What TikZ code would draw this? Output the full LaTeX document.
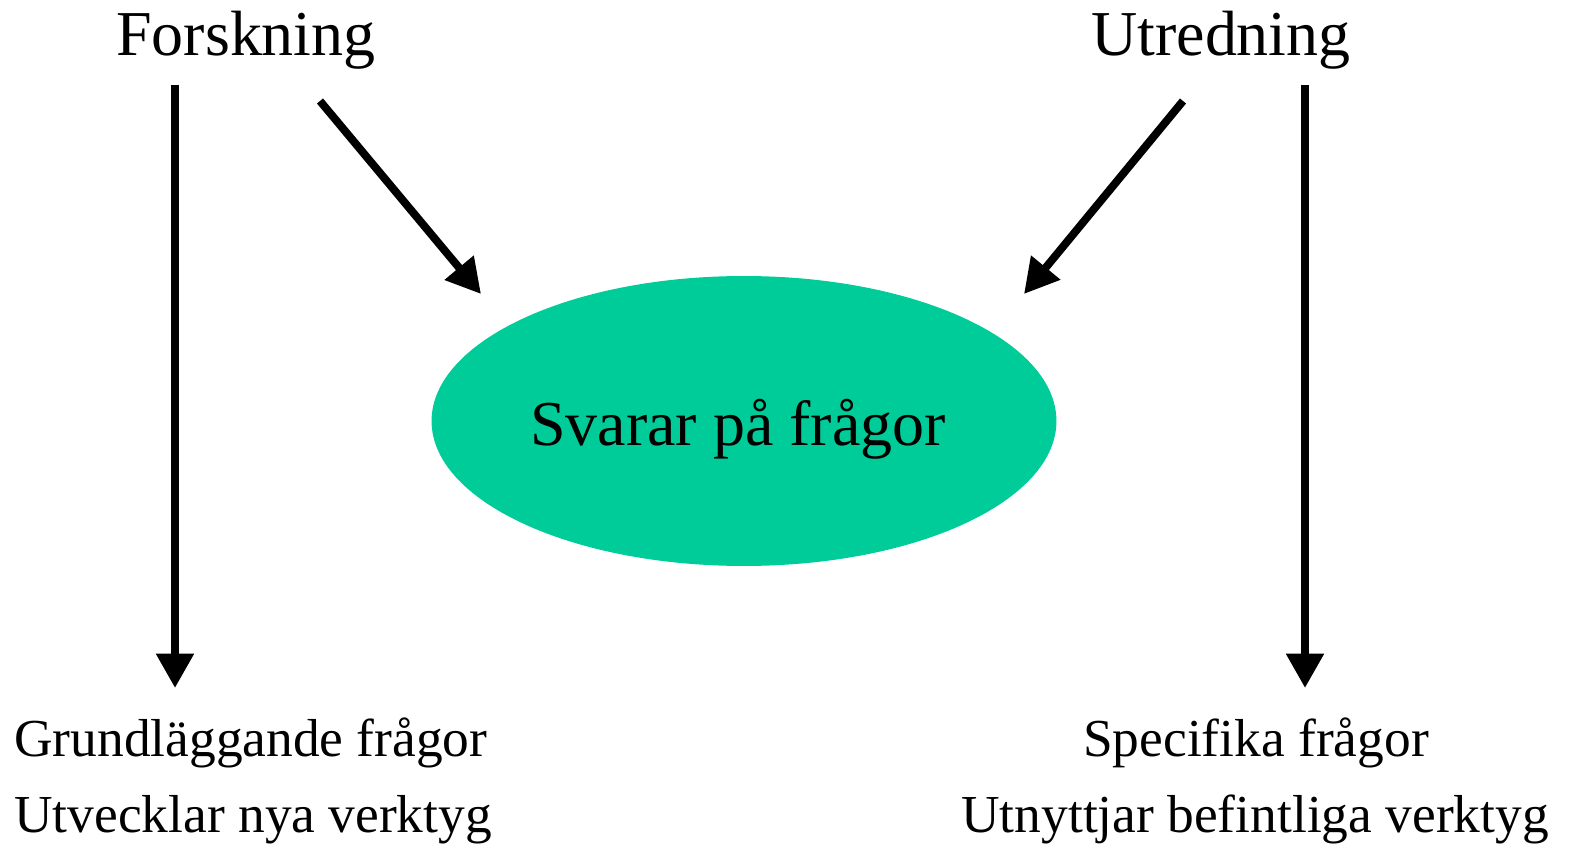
\documentclass[tikz,border=0pt]{standalone}
\usepackage{fontspec}
\setmainfont{Liberation Serif}
\usetikzlibrary{arrows.meta,shapes.geometric}
\definecolor{ellgreen}{HTML}{00CC99}
\begin{document}
\begin{tikzpicture}[x=0.02cm,y=-0.02cm,
  big/.style={font=\fontsize{36.4}{40}\selectfont, inner sep=0pt, anchor=base},
  small/.style={font=\fontsize{30.4}{34}\selectfont, inner sep=0pt, anchor=base},
  arr/.style={line width=4.5pt, -{Triangle[width=20.5pt,length=19.5pt]}}]
\useasboundingbox (0,0) rectangle (1571,847);
\node[ellipse, fill=ellgreen, minimum width=12.5cm, minimum height=5.8cm, inner sep=0pt] (ell) at (744,421) {};
\node[big] (svar) at (738,445) {Svarar på frågor};
\node[big] (fors) at (246,56) {Forskning};
\node[big] (utr) at (1221,56) {Utredning};
\node[small, anchor=base west] (grund) at (14,756) {Grundläggande frågor};
\node[small, anchor=base west] (utv) at (14,832) {Utvecklar nya verktyg};
\node[small] (spec) at (1256,756) {Specifika frågor};
\node[small] (utn) at (1255,832) {Utnyttjar befintliga verktyg};
\coordinate (a1) at (175,85);
\coordinate (a1e) at (175,688);
\coordinate (a2) at (320,101);
\coordinate (a2e) at (481,294);
\coordinate (a3) at (1183,101);
\coordinate (a3e) at (1024,294);
\coordinate (a4) at (1305,85);
\coordinate (a4e) at (1305,688);
\draw[arr] (a1) -- (a1e);
\draw[arr] (a2) -- (a2e);
\draw[arr] (a3) -- (a3e);
\draw[arr] (a4) -- (a4e);
\end{tikzpicture}
\end{document}
